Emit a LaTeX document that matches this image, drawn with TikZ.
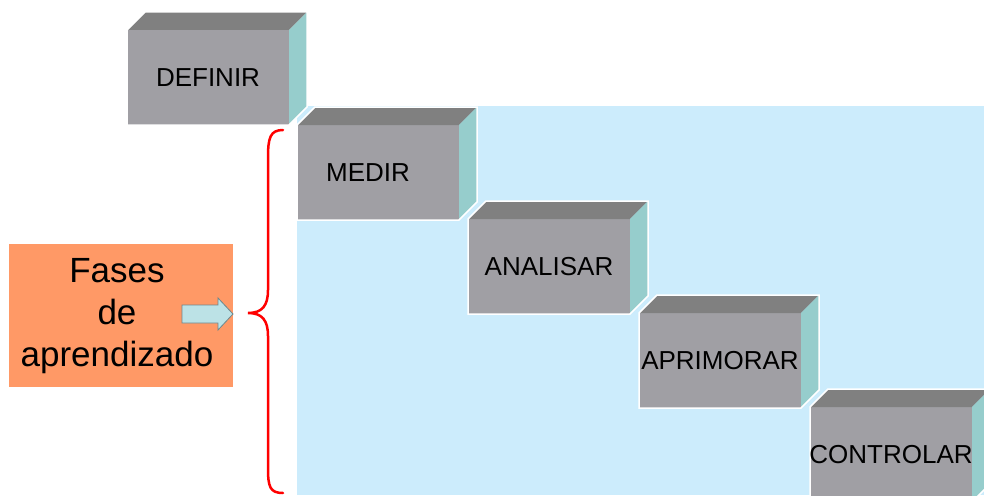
\documentclass[tikz,border=0pt]{standalone}
\usepackage{fontspec}
\setmainfont{Liberation Sans}

\definecolor{boxfront}{RGB}{160,159,164}
\definecolor{boxtop}{RGB}{128,128,128}
\definecolor{boxside}{RGB}{150,205,204}
\definecolor{phasebg}{RGB}{204,236,252}
\definecolor{fasesbg}{RGB}{255,153,102}
\definecolor{arrowfill}{RGB}{188,226,230}
\definecolor{arrowedge}{RGB}{110,135,140}

\begin{document}
\begin{tikzpicture}[x=1pt, y=-1pt,
        phase/.style={font=\fontsize{26}{31}\selectfont, inner sep=0pt},
        fases/.style={font=\fontsize{35}{42}\selectfont, align=center, inner sep=0pt},
    ]
        \useasboundingbox (0,0) rectangle (984,495);
        \clip (0,0) rectangle (984,495);

        % light blue field behind the phases
        \fill[phasebg] (297,106) rectangle (984,495);

        % the five phase blocks, stepping down to the right
        \foreach \name/\lbl/\x/\y/\tx in {definir/DEFINIR/127/30/0, medir/MEDIR/297/125/-10, analisar/ANALISAR/468/219/0, aprimorar/APRIMORAR/639/313/0, controlar/CONTROLAR/810/407/0} {
            \fill[boxfront] (\x,\y) rectangle ++(162,95);
            \fill[boxtop] (\x,\y) -- ++(18,-18) -- ++(162,0) -- ++(-18,18) -- cycle;
            \fill[boxside] (\x+162,\y) -- ++(18,-18) -- ++(0,95) -- ++(-18,18) -- cycle;
            \draw[white, line width=1.5pt] (\x,\y) -- ++(18,-18) -- ++(162,0) -- ++(0,95) -- ++(-18,18) -- ++(-162,0) -- cycle;
            \node[phase] (\name) at (\x+81+\tx,\y+47.5) {\lbl};
        }

        % label box on the left
        \fill[fasesbg] (9,244) rectangle (233,387);
        \node[fases] (fases) at (117,316) {Fases\\de\\aprendizado};

        % small block arrow
        \filldraw[fill=arrowfill, draw=arrowedge, line width=0.8pt]
            (182,305) -- (218,305) -- (218,298) -- (233,314) -- (218,330) -- (218,323) -- (182,323) -- cycle;

        % red brace
        \draw[red, line width=2.5pt, line cap=round]
            (283,130) .. controls (270,130) and (268,138) .. (268,158) -- (268,290)
            .. controls (268,306) and (262,313) .. (248,313)
            .. controls (262,313) and (268,320) .. (268,336) -- (268,468)
            .. controls (268,487) and (270,493) .. (283,493);
\end{tikzpicture}
\end{document}
